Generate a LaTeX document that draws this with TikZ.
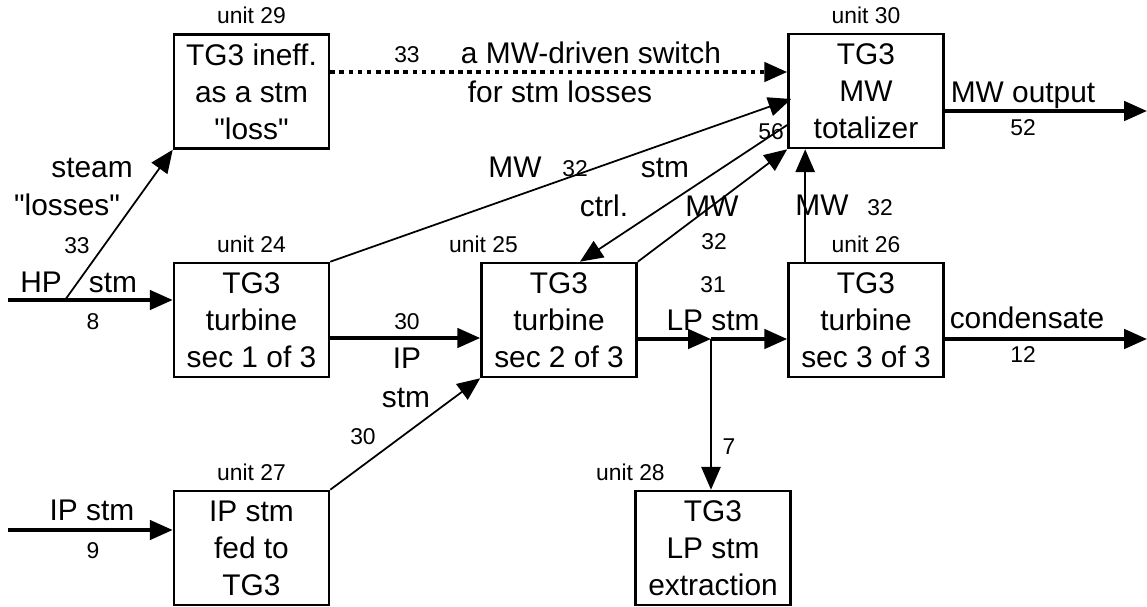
\documentclass[tikz,border=0pt]{standalone}
\usepackage{fontspec}
\setmainfont{Liberation Sans}[Ligatures=TeXOff]
\usepackage{tikz}
\usetikzlibrary{arrows.meta,calc}

\tikzset{
  unitbox/.style={rectangle, draw, line width=1.5pt, minimum width=3.1cm, minimum height=2.28cm,
    align=center, inner sep=0pt, font=\fontsize{17}{21}\selectfont},
  unitlbl/.style={inner sep=0pt, font=\fontsize{13}{15}\selectfont},
  bigtxt/.style={anchor=base, inner sep=0pt, font=\fontsize{17}{21}\selectfont},
  smalltxt/.style={anchor=base, inner sep=0pt, font=\fontsize{13}{15}\selectfont},
  flow/.style={line width=2pt, -{Triangle[length=13pt,width=11pt]}},
  sig/.style={line width=1pt, -{Triangle[length=13pt,width=11pt]}},
  dotflow/.style={line width=2pt, dash pattern=on 2.6pt off 2.6pt, -{Triangle[length=13pt,width=11pt]}}
}

\begin{document}
\begin{tikzpicture}[x=0.02cm, y=-0.02cm]
  \useasboundingbox (0,0) rectangle (1147,606);

  % Nodes
  \node[unitbox, label={[unitlbl, label distance=5pt]above:unit 29}] (u29) at (251.5,91.5) {TG3 ineff.\\as a stm\\"loss"};
  \node[unitbox, label={[unitlbl, label distance=5pt]above:unit 24}] (u24) at (251.5,320) {TG3\\turbine\\sec 1 of 3};
  \node[unitbox, label={[unitlbl, label distance=5pt]above:unit 27}] (u27) at (251.5,548) {IP stm\\fed to\\TG3};
  \node[unitbox, label={[unitlbl, label distance=5pt, xshift=-43pt]above:unit 25}] (u25) at (559,320) {TG3\\turbine\\sec 2 of 3};
  \node[unitbox, label={[unitlbl, label distance=5pt, xshift=-47pt]above:unit 28}] (u28) at (713,548) {TG3\\LP stm\\extraction};
  \node[unitbox, label={[unitlbl, label distance=5pt]above:unit 30}] (u30) at (866,91) {TG3\\MW\\totalizer};
  \node[unitbox, label={[unitlbl, label distance=5pt]above:unit 26}] (u26) at (866,320) {TG3\\turbine\\sec 3 of 3};

  \coordinate (hpin) at (8,300);
  \coordinate (hpsplit) at (65,300);
  \coordinate (ipin) at (8,530);
  \coordinate (jct) at (711,339);
  \coordinate (mwout) at (1147,111);
  \coordinate (condout) at (1147,339);

  % Edges
  \draw[flow] (hpin) -- (hpin -| u24.west);
  \draw[sig] (hpsplit) -- (u29.south west);
  \draw[flow] ($(u24.east)+(0,18)$) -- ($(u25.west)+(0,18)$);
  \draw[sig] (u27.north east) -- (u25.south west);
  \draw[flow] (ipin) -- (ipin -| u27.west);
  \draw[sig] (u24.north east) -- ($(u30.west)+(4,8)$);
  \draw[dotflow] ($(u29.east)+(0,-19.5)$) -- ($(u30.west)+(0,-19)$);
  \draw[sig] ($(u30.west)+(0,34)$) -- ($(u25.north)+(21,0)$);
  \draw[sig] (u25.north east) -- (u30.south west);
  \draw[sig] ($(u26.north west)+(18,0)$) -- ($(u30.south west)+(18,0)$);
  \draw[flow] ($(u25.east)+(0,19)$) -- (jct);
  \draw[flow] (jct) -- (jct -| u26.west);
  \draw[sig] (jct) -- (jct |- u28.north);
  \draw[flow] ($(u26.east)+(0,19)$) -- (condout);
  \draw[flow] ($(u30.east)+(0,20)$) -- (mwout);

  % Labels
  \node[bigtxt] (tHP) at (41,292) {HP};
  \node[bigtxt] (tHPstm) at (113,292) {stm};
  \node[smalltxt] (n8) at (93,329) {8};
  \node[bigtxt] (tsteam) at (92,177) {steam};
  \node[bigtxt] (tlosses) at (67,215) {"losses"};
  \node[smalltxt] (n33a) at (77,253) {33};
  \node[smalltxt] (n33b) at (407,62) {33};
  \node[bigtxt] (tswitch) at (591,63) {a MW-driven switch};
  \node[bigtxt] (tforstm) at (560,102) {for stm losses};
  \node[bigtxt] (tMWa) at (515,177) {MW};
  \node[smalltxt] (n32a) at (575,176) {32};
  \node[bigtxt] (tctrlstm) at (665,177) {stm};
  \node[bigtxt] (tctrl) at (604,216) {ctrl.};
  \node[smalltxt] (n56) at (771,139) {56};
  \node[bigtxt] (tMWb) at (712,216) {MW};
  \node[smalltxt] (n32b) at (714,249) {32};
  \node[bigtxt] (tMWc) at (822,215) {MW};
  \node[smalltxt] (n32c) at (880,215) {32};
  \node[smalltxt] (n31) at (713,292) {31};
  \node[bigtxt] (tLP) at (713,330) {LP stm};
  \node[smalltxt] (n7) at (729,454) {7};
  \node[smalltxt] (n30a) at (407,329) {30};
  \node[bigtxt] (tIP) at (407,368) {IP};
  \node[bigtxt] (tIPstm) at (406,407) {stm};
  \node[smalltxt] (n30b) at (363,444) {30};
  \node[bigtxt] (tIPin) at (92,520) {IP stm};
  \node[smalltxt] (n9) at (93,558) {9};
  \node[bigtxt] (tMWout) at (1023,102) {MW output};
  \node[smalltxt] (n52) at (1023,135) {52};
  \node[bigtxt] (tcond) at (1027,328) {condensate};
  \node[smalltxt] (n12) at (1023,362) {12};
\end{tikzpicture}
\end{document}
